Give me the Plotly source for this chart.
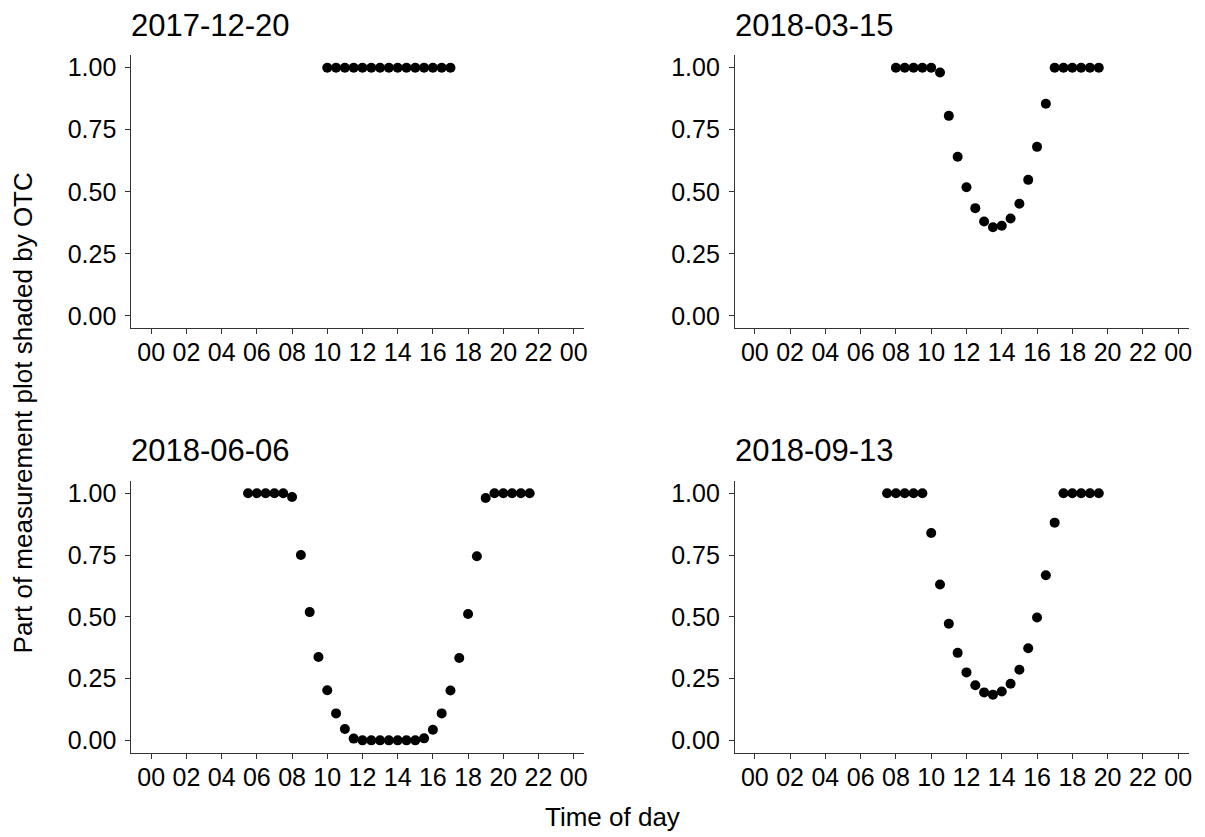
import plotly.graph_objects as go

W, H = 1205, 837

# ---------------- data ----------------
titles = ["2017-12-20", "2018-03-15", "2018-06-06", "2018-09-13"]

t_1220 = [10.0, 10.5, 11.0, 11.5, 12.0, 12.5, 13.0, 13.5, 14.0, 14.5, 15.0, 15.5, 16.0, 16.5, 17.0]
v_1220 = [1.0] * 15

t_0315 = [8.0, 8.5, 9.0, 9.5, 10.0, 10.5, 11.0, 11.5, 12.0, 12.5, 13.0, 13.5, 14.0, 14.5,
          15.0, 15.5, 16.0, 16.5, 17.0, 17.5, 18.0, 18.5, 19.0, 19.5]
v_0315 = [1.0, 1.0, 1.0, 1.0, 1.0, 0.981, 0.806, 0.641, 0.518, 0.434, 0.380, 0.357, 0.363, 0.392,
          0.452, 0.548, 0.681, 0.855, 1.0, 1.0, 1.0, 1.0, 1.0, 1.0]

t_0606 = [5.5, 6.0, 6.5, 7.0, 7.5, 8.0, 8.5, 9.0, 9.5, 10.0, 10.5, 11.0, 11.5, 12.0, 12.5,
          13.0, 13.5, 14.0, 14.5, 15.0, 15.5, 16.0, 16.5, 17.0, 17.5, 18.0, 18.5, 19.0,
          19.5, 20.0, 20.5, 21.0, 21.5]
v_0606 = [1.0, 1.0, 1.0, 1.0, 1.0, 0.985, 0.750, 0.519, 0.337, 0.203, 0.109, 0.046, 0.007, 0.0, 0.0,
          0.0, 0.0, 0.0, 0.0, 0.0, 0.008, 0.043, 0.109, 0.202, 0.333, 0.511, 0.745, 0.981,
          1.0, 1.0, 1.0, 1.0, 1.0]

t_0913 = [7.5, 8.0, 8.5, 9.0, 9.5, 10.0, 10.5, 11.0, 11.5, 12.0, 12.5, 13.0, 13.5, 14.0,
          14.5, 15.0, 15.5, 16.0, 16.5, 17.0, 17.5, 18.0, 18.5, 19.0, 19.5]
v_0913 = [1.0, 1.0, 1.0, 1.0, 1.0, 0.839, 0.631, 0.472, 0.354, 0.275, 0.223, 0.194, 0.185, 0.198,
          0.229, 0.286, 0.373, 0.497, 0.668, 0.881, 1.0, 1.0, 1.0, 1.0, 1.0]

x_tickvals = [0, 2, 4, 6, 8, 10, 12, 14, 16, 18, 20, 22, 24]
x_ticktext = ["00", "02", "04", "06", "08", "10", "12", "14", "16", "18", "20", "22", "00"]
y_tickvals = [0.0, 0.25, 0.5, 0.75, 1.0]
y_ticktext = ["0.00", "0.25", "0.50", "0.75", "1.00"]

series = [(t_1220, v_1220), (t_0315, v_0315), (t_0606, v_0606), (t_0913, v_0913)]

# ---------------- layout (pixel boxes) ----------------
xbox = [(131.7, 585.7), (736.7, 1191.7), (131.7, 585.7), (736.7, 1191.7)]
ybox = [(53.5, 327.4), (53.5, 327.4), (480.6, 753.4), (480.6, 753.4)]
title_y = [24, 24, 450, 450]

FONT = "Liberation Sans, Arial, sans-serif"
AXC = "#333333"

fig = go.Figure()
layout = dict(
    width=W, height=H,
    margin=dict(l=0, r=0, t=0, b=0),
    paper_bgcolor="white", plot_bgcolor="white",
    showlegend=False,
    font=dict(family=FONT, color="black"),
)
annotations = []
for i, ((tx, vy), (x0, x1), (y0, y1)) in enumerate(zip(series, xbox, ybox)):
    n = "" if i == 0 else str(i + 1)
    fig.add_trace(go.Scatter(
        x=tx, y=vy, mode="markers",
        marker=dict(color="black", size=10, line=dict(width=0)),
        xaxis="x" + n, yaxis="y" + n, hoverinfo="x+y",
    ))
    common = dict(showline=True, linecolor=AXC, linewidth=1.1, ticks="outside",
                  ticklen=5, tickwidth=1.1, tickcolor=AXC, showgrid=False,
                  zeroline=False, tickfont=dict(size=25, color="black", family=FONT))
    layout["xaxis" + n] = dict(
        domain=[x0 / W, x1 / W], range=[-1.13, 24.6], anchor="y" + n,
        tickmode="array", tickvals=x_tickvals, ticktext=x_ticktext,
        ticklabelstandoff=-3, **common)
    layout["yaxis" + n] = dict(
        domain=[1 - y1 / H, 1 - y0 / H], range=[-0.05, 1.05], anchor="x" + n,
        tickmode="array", tickvals=y_tickvals, ticktext=y_ticktext,
        ticklabelstandoff=4, **common)
    annotations.append(dict(
        text=titles[i], xref="paper", yref="paper", x=(x0 - 2) / W, y=1 - title_y[i] / H,
        xanchor="left", yanchor="middle", showarrow=False,
        font=dict(size=31, color="black", family=FONT)))

annotations.append(dict(
    text="Time of day", xref="paper", yref="paper", x=614 / W, y=1 - 818 / H,
    xanchor="center", yanchor="middle", showarrow=False,
    font=dict(size=26, color="black", family=FONT)))
annotations.append(dict(
    text="Part of measurement plot shaded by OTC", xref="paper", yref="paper",
    x=23 / W, y=1 - 412 / H, xanchor="center", yanchor="middle", textangle=-90,
    showarrow=False, font=dict(size=26, color="black", family=FONT)))

layout["annotations"] = annotations
fig.update_layout(**layout)
fig.write_html("out.html")
